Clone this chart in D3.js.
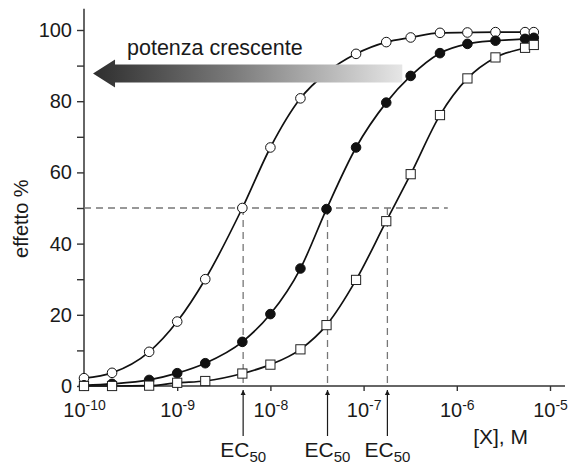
<!DOCTYPE html>
<html>
<head>
<meta charset="utf-8">
<script src="https://cdn.jsdelivr.net/npm/d3@7"></script>
<style>
    body { margin: 0; background: #fff; }
    svg { display: block; font-family: "Liberation Sans", Arial, sans-serif; }
    .axis path { display: none; }
    .axis line { stroke: #333; stroke-width: 1.4; }
    .axis text { fill: #1a1a1a; }
</style>
</head>
<body>
<svg width="571" height="466"></svg>
<script>
"use strict";

// concentration (M) shared by the three series
var concentrations = [
    1e-10, 2e-10, 5e-10, 1e-9, 2e-9, 5e-9, 1e-8, 2.1e-8, 4e-8, 8.3e-8,
    1.75e-7, 3.2e-7, 6.6e-7, 1.3e-6, 2.6e-6, 5.4e-6, 6.7e-6
];
var openCircles = [
    2.2, 3.7, 9.6, 18.1, 30, 50, 67, 80.8, 88, 93.3,
    96.6, 97.9, 99.2, 99.3, 99.4, 99.4, 99.4
];
var filledCircles = [
    0.2, 0.6, 1.7, 3.6, 6.4, 12.4, 20.2, 33, 49.7, 67,
    79.6, 87.1, 93.5, 96.1, 97, 97.5, 97.8
];
var openSquares = [
    0, 0, 0.1, 0.9, 1.4, 3.5, 6, 10.3, 17.1, 29.8,
    46.3, 59.5, 76.1, 86.4, 92.3, 95, 95.8
];
var ec50 = [5.1e-9, 4.1e-8, 1.8e-7];
var xTicks = [1e-10, 1e-9, 1e-8, 1e-7, 1e-6, 1e-5];
var yTicks = [0, 10, 20, 30, 40, 50, 60, 70, 80, 90, 100];

var svg = d3.select("svg");

var x = d3.scaleLog().domain([1e-10, 1e-5]).range([84, 550]);
var y = d3.scaleLinear().domain([0, 100]).range([386, 30]);

// axes
var yAxis = d3.axisLeft(y)
    .tickValues(yTicks)
    .tickSize(7)
    .tickPadding(5)
    .tickFormat(function (d) {
        return d % 20 === 0 ? d : "";
    });
svg.append("g")
    .attr("class", "axis")
    .attr("transform", "translate(" + x(1e-10) + ",0)")
    .call(yAxis)
    .selectAll("text")
    .style("font-size", "20px")
    .attr("font-family", null);

var xAxis = d3.axisBottom(x)
    .tickValues(xTicks)
    .tickSize(5)
    .tickFormat("");
var xAxisGroup = svg.append("g")
    .attr("class", "axis")
    .attr("transform", "translate(0," + y(0) + ")")
    .call(xAxis);

xAxisGroup.selectAll(".tick").append("text")
    .attr("y", 31)
    .attr("text-anchor", "middle")
    .style("font-size", "20px")
    .each(function (d) {
        var t = d3.select(this);
        t.append("tspan").text("10");
        t.append("tspan")
            .attr("dy", -7)
            .style("font-size", "14px")
            .text(String(Math.round(Math.log10(d))));
    });

svg.append("line")
    .attr("x1", x(1e-10)).attr("x2", x(1e-10))
    .attr("y1", y(0)).attr("y2", y(106))
    .attr("stroke", "#333").attr("stroke-width", 1.5);
svg.append("line")
    .attr("x1", x(1e-10)).attr("x2", x(1.45e-5))
    .attr("y1", y(0)).attr("y2", y(0))
    .attr("stroke", "#333").attr("stroke-width", 1.5);

// axis titles
svg.append("text")
    .attr("transform", "translate(28," + y(47) + ") rotate(-90)")
    .attr("text-anchor", "middle")
    .style("font-size", "20px")
    .attr("fill", "#1a1a1a")
    .text("effetto %");
svg.append("text")
    .attr("x", 528).attr("y", 444)
    .attr("text-anchor", "end")
    .style("font-size", "21px")
    .attr("fill", "#1a1a1a")
    .text("[X], M");

// EC50 guides
svg.append("line")
    .attr("x1", x(1e-10)).attr("x2", x(8e-7))
    .attr("y1", y(50)).attr("y2", y(50))
    .attr("stroke", "#777").attr("stroke-width", 1.3)
    .attr("stroke-dasharray", "7,5");
svg.selectAll("line.ec-drop")
    .data(ec50)
    .join("line")
    .attr("class", "ec-drop")
    .attr("x1", function (d) { return x(d); })
    .attr("x2", function (d) { return x(d); })
    .attr("y1", y(50)).attr("y2", y(0))
    .attr("stroke", "#777").attr("stroke-width", 1.3)
    .attr("stroke-dasharray", "7,5");

var defs = svg.append("defs");
defs.append("marker")
    .attr("id", "head")
    .attr("viewBox", "0 0 10 10")
    .attr("refX", 10).attr("refY", 5)
    .attr("markerWidth", 5).attr("markerHeight", 8)
    .attr("markerUnits", "userSpaceOnUse")
    .attr("orient", "auto")
    .append("path")
    .attr("d", "M0,0L10,5L0,10Z")
    .attr("fill", "#1a1a1a");

svg.selectAll("line.ec-arrow")
    .data(ec50)
    .join("line")
    .attr("class", "ec-arrow")
    .attr("x1", function (d) { return x(d); })
    .attr("x2", function (d) { return x(d); })
    .attr("y1", y(0) + 50).attr("y2", y(0) + 4)
    .attr("stroke", "#1a1a1a").attr("stroke-width", 1.2)
    .attr("marker-end", "url(#head)");

svg.selectAll("text.ec-label")
    .data(ec50)
    .join("text")
    .attr("class", "ec-label")
    .attr("x", function (d) { return x(d); })
    .attr("y", 457)
    .attr("text-anchor", "middle")
    .attr("fill", "#1a1a1a")
    .style("font-size", "21px")
    .each(function () {
        var t = d3.select(this);
        t.append("tspan").text("EC");
        t.append("tspan")
            .attr("dy", 5)
            .style("font-size", "15px")
            .text("50");
    });

// curves
var series = [
    {values: openCircles, shape: "circle", fill: "#fff"},
    {values: filledCircles, shape: "circle", fill: "#111"},
    {values: openSquares, shape: "square", fill: "#fff"}
];

var line = d3.line()
    .x(function (d) { return x(d[0]); })
    .y(function (d) { return y(d[1]); })
    .curve(d3.curveMonotoneX);

series.forEach(function (s) {
    var pts = d3.zip(concentrations, s.values);
    svg.append("path")
        .datum(pts)
        .attr("d", line)
        .attr("fill", "none")
        .attr("stroke", "#111")
        .attr("stroke-width", 1.7);
});

series.forEach(function (s) {
    var pts = d3.zip(concentrations, s.values);
    var g = svg.append("g");
    if (s.shape === "circle") {
        g.selectAll("circle")
            .data(pts)
            .join("circle")
            .attr("cx", function (d) { return x(d[0]); })
            .attr("cy", function (d) { return y(d[1]); })
            .attr("r", 4.8)
            .attr("fill", s.fill)
            .attr("stroke", "#111")
            .attr("stroke-width", 1);
    } else {
        g.selectAll("rect")
            .data(pts)
            .join("rect")
            .attr("x", function (d) { return x(d[0]) - 4.6; })
            .attr("y", function (d) { return y(d[1]) - 4.6; })
            .attr("width", 9.2)
            .attr("height", 9.2)
            .attr("fill", s.fill)
            .attr("stroke", "#222")
            .attr("stroke-width", 1);
    }
});

// "potenza crescente" arrow
var grad = defs.append("linearGradient")
    .attr("id", "fade")
    .attr("x1", "0%").attr("x2", "100%")
    .attr("y1", "0%").attr("y2", "0%");
grad.append("stop").attr("offset", "0%").attr("stop-color", "#2e2e2e");
grad.append("stop").attr("offset", "45%").attr("stop-color", "#7a7a7a");
grad.append("stop").attr("offset", "100%").attr("stop-color", "#e6e6e6");

var arrowY = y(87.8);
var tipX = x(1.25e-10);
var endX = x(2.6e-7);
svg.append("path")
    .attr("d", "M" + tipX + "," + arrowY +
            "L" + (tipX + 22) + "," + (arrowY - 14) +
            "L" + (tipX + 22) + "," + (arrowY - 9) +
            "L" + endX + "," + (arrowY - 9) +
            "L" + endX + "," + (arrowY + 9) +
            "L" + (tipX + 22) + "," + (arrowY + 9) +
            "L" + (tipX + 22) + "," + (arrowY + 14) + "Z")
    .attr("fill", "url(#fade)");

svg.append("text")
    .attr("x", 127).attr("y", 55)
    .style("font-size", "21.5px")
    .attr("fill", "#1a1a1a")
    .text("potenza crescente");
</script>
</body>
</html>
